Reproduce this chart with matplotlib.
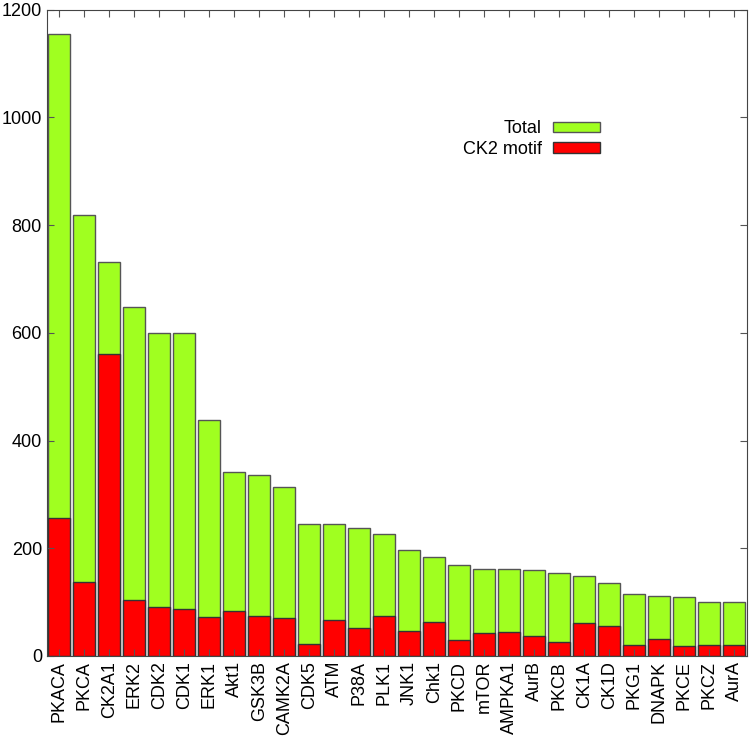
import matplotlib
matplotlib.use("Agg")
import matplotlib.pyplot as plt
import numpy as np

# Donnees
kinases = ["PKACA", "PKCA", "CK2A1", "ERK2", "CDK2", "CDK1", "ERK1", "Akt1",
           "GSK3B", "CAMK2A", "CDK5", "ATM", "P38A", "PLK1", "JNK1", "Chk1",
           "PKCD", "mTOR", "AMPKA1", "AurB", "PKCB", "CK1A", "CK1D", "PKG1",
           "DNAPK", "PKCE", "PKCZ", "AurA"]
total = [1154, 818, 732, 647, 600, 599, 438, 342, 336, 314, 245, 245, 237,
         227, 197, 184, 169, 161, 162, 159, 154, 148, 135, 115, 111, 109,
         100, 100]
ck2 = [256, 137, 560, 103, 91, 88, 73, 83, 75, 70, 23, 67, 51, 74, 47, 63,
       29, 42, 44, 37, 26, 62, 56, 21, 31, 18, 21, 20]

plt.rcParams['font.family'] = ['Liberation Sans', 'DejaVu Sans']

fig = plt.figure(figsize=(7.5, 7.38), dpi=100)
ax = fig.add_axes([0.0624, 0.1112, 0.9333, 0.8757])

index = np.arange(len(kinases))
largeur = 0.88
ax.bar(index, total, largeur, color='#a0ff20', edgecolor='#555555',
       linewidth=1, label='Total')
ax.bar(index, ck2, largeur, color='#ff0000', edgecolor='#333333',
       linewidth=1, label='CK2 motif')

ax.set_xlim(-0.5, len(kinases) - 0.5)
ax.set_ylim(0, 1200)
ax.set_yticks(np.arange(0, 1201, 200))
ax.set_xticks(index)
ax.set_xticklabels(kinases, rotation=90, fontsize=13)
ax.tick_params(axis='y', labelsize=13, direction='in', right=True,
               length=5, color='#555555')
ax.tick_params(axis='x', direction='in', top=True, length=5,
               color='#555555')
for s in ax.spines.values():
    s.set_color('#444444')

ax.legend(loc='upper right', bbox_to_anchor=(0.79, 0.829), frameon=False,
          markerfirst=False, fontsize=13, handlelength=2.6,
          handleheight=0.5, labelspacing=0.2, handletextpad=0.6,
          borderpad=0, borderaxespad=0)

fig.savefig("out.png", dpi=100)
